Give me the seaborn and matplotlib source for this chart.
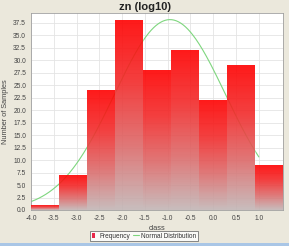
import numpy as np
import pandas as pd
import matplotlib
matplotlib.use("Agg")
import matplotlib.pyplot as plt
from matplotlib.colors import LinearSegmentedColormap
from matplotlib.patches import Rectangle
from matplotlib.lines import Line2D
import seaborn as sns

# ---- data ----
TITLE = "zn (log10)"
CLASS_MIN = -4.0
CLASS_MAX = 1.53
COUNTS = [1, 7, 24, 38, 28, 32, 22, 29, 9]
NORMAL_MEAN = -0.95
NORMAL_SD = 1.22
CURVE_END = 1.0
X_TICKS = [-4.0, -3.5, -3.0, -2.5, -2.0, -1.5, -1.0, -0.5, 0.0, 0.5, 1.0]
Y_TICKS = [0.0, 2.5, 5.0, 7.5, 10.0, 12.5, 15.0, 17.5, 20.0, 22.5, 25.0,
           27.5, 30.0, 32.5, 35.0, 37.5]

edges = np.linspace(CLASS_MIN, CLASS_MAX, len(COUNTS) + 1)
centers = (edges[:-1] + edges[1:]) / 2
width = edges[1] - edges[0]
df = pd.DataFrame({"class": centers, "count": COUNTS})

total = sum(COUNTS)
cx = np.linspace(CLASS_MIN, CURVE_END, 200)
cy = total * width / (NORMAL_SD * np.sqrt(2 * np.pi)) * np.exp(-0.5 * ((cx - NORMAL_MEAN) / NORMAL_SD) ** 2)
curve = pd.DataFrame({"x": cx, "y": cy})

sns.set_style("white")
plt.rcParams["font.family"] = ["Liberation Sans", "DejaVu Sans"]

BG = "#ebe8dc"
fig = plt.figure(figsize=(2.89, 2.46), dpi=100, facecolor=BG)
ax = fig.add_axes([31 / 289, 1 - 210 / 246, (283 - 31) / 289, (210 - 13) / 246])
ax.set_facecolor("white")

# normal curve
sns.lineplot(data=curve, x="x", y="y", ax=ax, color="#7ed67e", lw=0.8, zorder=2)

# histogram bars
sns.histplot(data=df, x="class", weights="count", bins=[float(e) for e in edges],
             ax=ax, color="red", alpha=1, edgecolor="none", zorder=3)

cmap = LinearSegmentedColormap.from_list("g", ["#c2b6b6", "#dc6a6a", "#f22a2a", "#ff0000"])
grad = np.linspace(0, 1, 256).reshape(-1, 1)
for p in list(ax.patches):
    x0, y0 = p.get_x(), p.get_y()
    w, h = p.get_width(), p.get_height()
    p.set_facecolor("none")
    p.set_edgecolor((1, 1, 1, 0.35))
    p.set_linewidth(0.5)
    im = ax.imshow(grad, extent=[x0, x0 + w, y0, y0 + h], origin="lower",
                   cmap=cmap, aspect="auto", alpha=0.9, zorder=3,
                   interpolation="bilinear")
    im.set_clip_path(p)

ax.set_xlim(CLASS_MIN, CLASS_MAX)
ax.set_ylim(0, 39.5)
ax.set_xticks(X_TICKS)
ax.set_xticklabels([f"{t:.1f}" for t in X_TICKS])
ax.set_yticks(Y_TICKS)
ax.set_yticklabels([f"{t:.1f}" for t in Y_TICKS])
ax.grid(True, color="#e4e4e4", lw=0.6, zorder=0)
ax.set_axisbelow(True)
ax.tick_params(axis="both", labelsize=4.8, colors="#555555", length=2, width=0.5,
               pad=1.5, direction="out")
ax.tick_params(axis="both", labelcolor="#444444")
for s in ax.spines.values():
    s.set_color("#a0a0a0")
    s.set_linewidth(0.6)

ax.set_xlabel("class", fontsize=5.3, color="#444444", labelpad=2)
ax.set_ylabel("Number of Samples", fontsize=5.3, color="#444444", labelpad=3)
fig.text(145 / 289, 1 - 7 / 246, TITLE, ha="center", va="center",
         fontsize=8, fontweight="bold", color="#222222")

# legend
handles = [Rectangle((0, 0), 1, 1, facecolor="#e8284a", edgecolor="none"),
           Line2D([0], [0], color="#7ed67e", lw=0.8)]
leg = fig.legend(handles, ["Frequency", "Normal Distribution"],
                 loc="center", bbox_to_anchor=(144 / 289, 1 - 236 / 246),
                 ncol=2, fontsize=4.7, frameon=True, fancybox=False,
                 handlelength=0.9, handleheight=0.8, handletextpad=0.3,
                 columnspacing=0.4, borderpad=0.3, borderaxespad=0)
leg.legend_handles[0].set_width(2.5)
leg.get_frame().set_edgecolor("#555555")
leg.get_frame().set_linewidth(0.6)
leg.get_frame().set_facecolor("white")
for t in leg.get_texts():
    t.set_color("#333333")

# bottom window strip
fig.patches.append(Rectangle((0, 0), 1, 3 / 246, transform=fig.transFigure,
                             facecolor="#a9c6e6", edgecolor="none", zorder=0))

fig.savefig("out.png", dpi=100, facecolor=BG)
